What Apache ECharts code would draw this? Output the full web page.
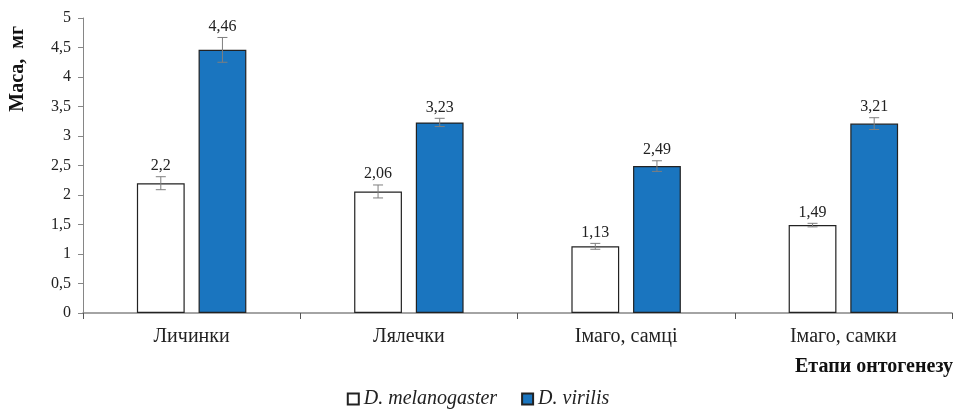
<!DOCTYPE html>
<html>
<head>
<meta charset="utf-8">
<script src="https://cdn.jsdelivr.net/npm/echarts@6/dist/echarts.min.js"></script>
<style>
	html, body { margin: 0; padding: 0; background: #fff; }
	#main { width: 956px; height: 410px; }
</style>
</head>
<body>
<div id="main"></div>
<script>
// етапи онтогенезу
var categories = ['Личинки', 'Лялечки', 'Імаго, самці', 'Імаго, самки'];
// маса, мг
var melanogaster = [2.2, 2.06, 1.13, 1.49];
var virilis = [4.46, 3.23, 2.49, 3.21];
// похибки
var melanogasterErr = [0.11, 0.11, 0.05, 0.03];
var virilisErr = [0.21, 0.07, 0.09, 0.1];
var seriesNames = ['D. melanogaster', 'D. virilis'];

var FONT = '"Liberation Serif", "Times New Roman", serif';
var BAR_W = 0.22;   // частка ширини категорії
var BAR_GAP = 0.29; // відносно ширини стовпця

function fmt(v) {
	return String(v).replace('.', ',');
}

// вуса похибок + підписи
function errorItem(dir, vals, errs) {
	return function (params, api) {
		var i = api.value(0);
		var band = api.size([1, 0])[0];
		var bw = band * BAR_W;
		var off = dir * (bw + bw * BAR_GAP) / 2;
		var top = api.coord([i, vals[i] + errs[i]]);
		var bot = api.coord([i, vals[i] - errs[i]]);
		var x = top[0] + off;
		var cap = 5;
		var st = { stroke: '#7f7f7f', lineWidth: 1 };
		return {
			type: 'group',
			children: [
				{ type: 'line', shape: { x1: x, y1: top[1], x2: x, y2: bot[1] }, style: st },
				{ type: 'line', shape: { x1: x - cap, y1: top[1], x2: x + cap, y2: top[1] }, style: st },
				{ type: 'line', shape: { x1: x - cap, y1: bot[1], x2: x + cap, y2: bot[1] }, style: st },
				{
					type: 'text',
					x: x, y: top[1] - 3,
					style: {
						text: fmt(vals[i]),
						fill: '#222',
						font: '16px ' + FONT,
						align: 'center',
						verticalAlign: 'bottom'
					}
				}
			]
		};
	};
}

var chart = echarts.init(document.getElementById('main'));
chart.setOption({
	animation: false,
	textStyle: { fontFamily: FONT },
	grid: {
		left: 83,
		right: 4,
		top: 18,
		bottom: 97
	},
	legend: {
		top: 384,
		left: 'center',
		itemWidth: 11,
		itemHeight: 11,
		itemGap: 24,
		textStyle: {
			fontFamily: FONT,
			fontStyle: 'italic',
			fontSize: 20,
			color: '#222'
		},
		data: [
			{ name: seriesNames[0], icon: 'rect' },
			{ name: seriesNames[1], icon: 'rect' }
		]
	},
	xAxis: {
		type: 'category',
		data: categories,
		axisLine: { lineStyle: { color: '#868686', width: 1.5 } },
		axisTick: { show: true, length: 6, lineStyle: { color: '#555' } },
		axisLabel: {
			fontFamily: FONT,
			fontSize: 20,
			color: '#222',
			margin: 14
		}
	},
	yAxis: {
		type: 'value',
		min: 0,
		max: 5,
		interval: 0.5,
		splitLine: { show: false },
		axisLine: { show: true, lineStyle: { color: '#868686' } },
		axisTick: { show: true, length: 5, lineStyle: { color: '#868686' } },
		axisLabel: {
			fontFamily: FONT,
			fontSize: 16,
			color: '#222',
			margin: 12,
			formatter: function (v) { return fmt(v); }
		}
	},
	graphic: [
		{
			type: 'text',
			left: 8,
			top: 26,
			rotation: Math.PI / 2,
			style: {
				text: 'Маса,  мг',
				font: 'bold 20px ' + FONT,
				fill: '#111'
			}
		},
		{
			type: 'text',
			right: 3,
			top: 357,
			style: {
				text: 'Етапи онтогенезу',
				font: 'bold 20px ' + FONT,
				fill: '#111'
			}
		}
	],
	series: [
		{
			name: seriesNames[0],
			type: 'bar',
			barWidth: (BAR_W * 100) + '%',
			barGap: (BAR_GAP * 100) + '%',
			itemStyle: { color: '#ffffff', borderColor: '#222', borderWidth: 1.2 },
			data: melanogaster
		},
		{
			name: seriesNames[1],
			type: 'bar',
			barWidth: (BAR_W * 100) + '%',
			itemStyle: { color: '#1a75bf', borderColor: '#222', borderWidth: 1.2 },
			data: virilis
		},
		{
			type: 'custom',
			renderItem: errorItem(-1, melanogaster, melanogasterErr),
			data: categories.map(function (c, i) { return [i]; }),
			z: 5
		},
		{
			type: 'custom',
			renderItem: errorItem(1, virilis, virilisErr),
			data: categories.map(function (c, i) { return [i]; }),
			z: 5
		}
	]
});
</script>
</body>
</html>
